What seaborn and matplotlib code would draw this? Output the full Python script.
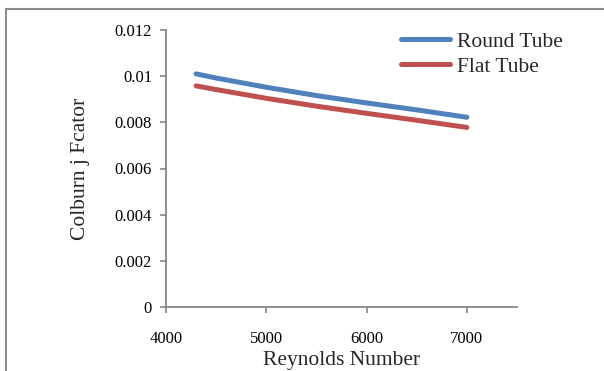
import matplotlib
matplotlib.use("Agg")
import matplotlib.pyplot as plt
import seaborn as sns
import pandas as pd
from matplotlib.lines import Line2D

reynolds = [4300, 4500, 5000, 5500, 6000, 6500, 7000]
round_tube = [0.01010, 0.00992, 0.00952, 0.00916, 0.00884, 0.00854, 0.00822]
flat_tube = [0.00958, 0.00942, 0.00904, 0.00870, 0.00839, 0.00809, 0.00778]
series_names = ["Round Tube", "Flat Tube"]
x_ticks = [4000, 5000, 6000, 7000]
y_ticks = [0, 0.002, 0.004, 0.006, 0.008, 0.01, 0.012]
y_tick_labels = ["0", "0.002", "0.004", "0.006", "0.008", "0.01", "0.012"]

df = pd.DataFrame({
    "Re": reynolds * 2,
    "j": round_tube + flat_tube,
    "Series": [series_names[0]] * len(reynolds) + [series_names[1]] * len(reynolds),
})

sns.set_style("white")
plt.rcParams["font.family"] = ["Liberation Serif", "DejaVu Serif"]

W, H = 604, 371
fig = plt.figure(figsize=(W / 100, H / 100), dpi=100)
ax = fig.add_axes([166 / W, 1 - 307 / H, (517 - 166) / W, (307 - 30) / H])

palette = {"Round Tube": "#4F81BD", "Flat Tube": "#C0504D"}
sns.lineplot(data=df, x="Re", y="j", hue="Series", palette=palette, ax=ax,
             linewidth=3.6, legend=False, solid_capstyle="round")

ax.set_xlim(4000, 7500)
ax.set_ylim(0, 0.012)
ax.set_xticks(x_ticks)
ax.set_xticklabels([str(t) for t in x_ticks])
ax.set_yticks(y_ticks)
ax.set_yticklabels(y_tick_labels)
ax.tick_params(axis="both", bottom=True, left=True, labelsize=12, labelcolor="#000000",
               length=4, width=1.2, direction="out", color="#868686")
ax.tick_params(axis="x", pad=13)
ax.tick_params(axis="y", pad=6)
for s in ["top", "right"]:
    ax.spines[s].set_visible(False)
for s in ["left", "bottom"]:
    ax.spines[s].set_color("#868686")
    ax.spines[s].set_linewidth(1.3)

ax.set_xlabel("Reynolds Number", fontsize=15.5, labelpad=3)
ax.set_ylabel("Colburn j Fcator", fontsize=15.5, labelpad=18)

handles = [Line2D([0], [0], color=palette[n], lw=3.6, solid_capstyle="round") for n in series_names]
leg = ax.legend(handles, series_names, loc="upper left", bbox_to_anchor=((392 - 166) / (517 - 166), 1.025),
                frameon=False, fontsize=15.5, handlelength=2.3, handletextpad=0.3, labelspacing=0.22,
                borderaxespad=0)

# outer chart border (left and top visible)
fig.add_artist(Line2D([6 / W, 6 / W], [0, 1 - 9 / H], transform=fig.transFigure, color="#8c8c8c", lw=1.5))
fig.add_artist(Line2D([6 / W, 1], [1 - 9 / H, 1 - 9 / H], transform=fig.transFigure, color="#8c8c8c", lw=1.5))

fig.savefig("out.png", dpi=100, facecolor="white")
